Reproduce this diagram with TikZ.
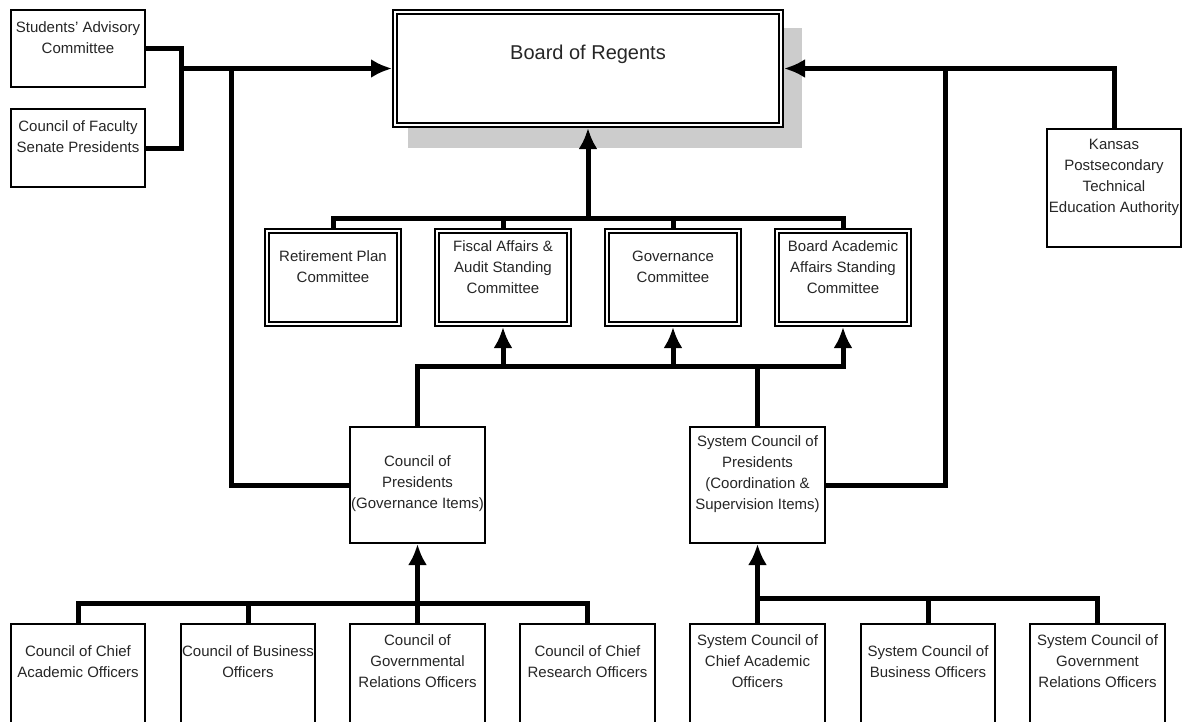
\documentclass[tikz,border=0pt]{standalone}
\usepackage{fontspec}
\setmainfont{Liberation Sans}
\usetikzlibrary{arrows.meta}
\begin{document}
\begin{tikzpicture}[x=1pt,y=-1pt,
  sbox/.style={draw=black, line width=1.6pt, fill=white, outer sep=0.8pt, inner sep=0pt},
  dbox/.style={draw=black, line width=1.6pt, double=white, double distance=2.4pt, fill=white, outer sep=2.8pt, inner sep=0pt},
  txt/.style={font=\fontsize{15}{21}\selectfont, align=center, inner sep=0pt, text=black!85},
  conn/.style={line width=5pt, draw=black},
  arr/.style={-{Latex[length=21pt,width=19pt]}}
]
\useasboundingbox (0,0) rectangle (1183,721);
\clip (0,0) rectangle (1183,721);

% shadow of the board
\fill[black!20] (408,28) rectangle (802,148);

% boxes
\node[dbox, minimum width=386.4pt, minimum height=113.4pt] (board) at (588,68.5) {};
\node[txt, font=\fontsize{20}{24}\selectfont] (board-t) at (588,54) {Board of Regents};

\node[sbox, minimum width=134.4pt, minimum height=77.4pt] (sac) at (78,48.5) {};
\node[txt] (sac-t) at (78,38) {Students' Advisory\\Committee};
\node[sbox, minimum width=134.4pt, minimum height=78.4pt] (cfs) at (78,148) {};
\node[txt] (cfs-t) at (78,137) {Council of Faculty\\Senate Presidents};

\node[sbox, minimum width=134.4pt, minimum height=118.4pt] (kan) at (1114,188) {};
\node[txt] (kan-t) at (1114,177) {Kansas\\Postsecondary\\Technical\\Education Authority};

\node[dbox, minimum width=132.4pt, minimum height=93.4pt] (ret) at (333,277.5) {};
\node[txt] (ret-t) at (333,266.5) {Retirement Plan\\Committee};
\node[dbox, minimum width=132.4pt, minimum height=93.4pt] (fis) at (503,277.5) {};
\node[txt] (fis-t) at (503,267) {Fiscal Affairs \&\\Audit Standing\\Committee};
\node[dbox, minimum width=132.4pt, minimum height=93.4pt] (gov) at (673,277.5) {};
\node[txt] (gov-t) at (673,267) {Governance\\Committee};
\node[dbox, minimum width=132.4pt, minimum height=93.4pt] (baa) at (843,277.5) {};
\node[txt] (baa-t) at (843,267) {Board Academic\\Affairs Standing\\Committee};

\node[sbox, minimum width=135.4pt, minimum height=116.4pt] (cop) at (417.5,485) {};
\node[txt] (cop-t) at (417.5,484) {Council of\\Presidents\\(Governance Items)};
\node[sbox, minimum width=135.4pt, minimum height=116.4pt] (scop) at (757.5,485) {};
\node[txt] (scop-t) at (757.5,474) {System Council of\\Presidents\\(Coordination \&\\Supervision Items)};

\node[sbox, minimum width=134.4pt, minimum height=110.4pt] (cca) at (78,679) {};
\node[txt] (cca-t) at (78,662) {Council of Chief\\Academic Officers};
\node[sbox, minimum width=134.4pt, minimum height=110.4pt] (cbo) at (248,679) {};
\node[txt] (cbo-t) at (248,662) {Council of Business\\Officers};
\node[sbox, minimum width=135.4pt, minimum height=110.4pt] (cgr) at (417.5,679) {};
\node[txt] (cgr-t) at (417.5,661) {Council of\\Governmental\\Relations Officers};
\node[sbox, minimum width=135.4pt, minimum height=110.4pt] (ccr) at (587.5,679) {};
\node[txt] (ccr-t) at (587.5,662) {Council of Chief\\Research Officers};

\node[sbox, minimum width=135.4pt, minimum height=110.4pt] (sca) at (757.5,679) {};
\node[txt] (sca-t) at (757.5,661) {System Council of\\Chief Academic\\Officers};
\node[sbox, minimum width=134.4pt, minimum height=110.4pt] (sbo) at (928,679) {};
\node[txt] (sbo-t) at (928,662) {System Council of\\Business Officers};
\node[sbox, minimum width=135.4pt, minimum height=110.4pt] (sgr) at (1097.5,679) {};
\node[txt] (sgr-t) at (1097.5,661) {System Council of\\Government\\Relations Officers};

% helper coordinates
\coordinate (jl) at (181,0);
\coordinate (lv) at (231,0);
\coordinate (rv) at (945,0);
\coordinate (topbus) at (0,218);
\coordinate (midbus) at (0,366);
\coordinate (lbus) at (0,603);
\coordinate (rbus) at (0,598);

% top-left bracket
\draw[conn] (sac.east) -- (jl |- sac.east) -- (jl |- cfs.east) -- (cfs.east);
\draw[conn,arr] (jl |- board.west) -- (board.west);
\draw[conn] (lv |- board.west) -- (lv |- cop.west) -- (cop.west);

% right side
\draw[conn,arr] (kan.north) -- (kan.north |- board.east) -- (board.east);
\draw[conn] (rv |- board.east) -- (rv |- scop.east) -- (scop.east);

% committees to board
\draw[conn] (ret.north) -- (ret.north |- topbus) -- (baa.north |- topbus) -- (baa.north);
\draw[conn] (fis.north) -- (fis.north |- topbus);
\draw[conn] (gov.north) -- (gov.north |- topbus);
\draw[conn,arr] (board.south |- topbus) -- (board.south);

% presidents to committees
\draw[conn,arr] (cop.north) -- (cop.north |- midbus) -- (baa.south |- midbus) -- (baa.south);
\draw[conn] (scop.north) -- (scop.north |- midbus);
\draw[conn,arr] (fis.south |- midbus) -- (fis.south);
\draw[conn,arr] (gov.south |- midbus) -- (gov.south);

% bottom left
\draw[conn] (cca.north) -- (cca.north |- lbus) -- (ccr.north |- lbus) -- (ccr.north);
\draw[conn] (cbo.north) -- (cbo.north |- lbus);
\draw[conn,arr] (cgr.north) -- (cop.south);

% bottom right
\draw[conn] (sca.north |- rbus) -- (sgr.north |- rbus) -- (sgr.north);
\draw[conn] (sbo.north) -- (sbo.north |- rbus);
\draw[conn,arr] (sca.north) -- (scop.south);
\end{tikzpicture}
\end{document}
